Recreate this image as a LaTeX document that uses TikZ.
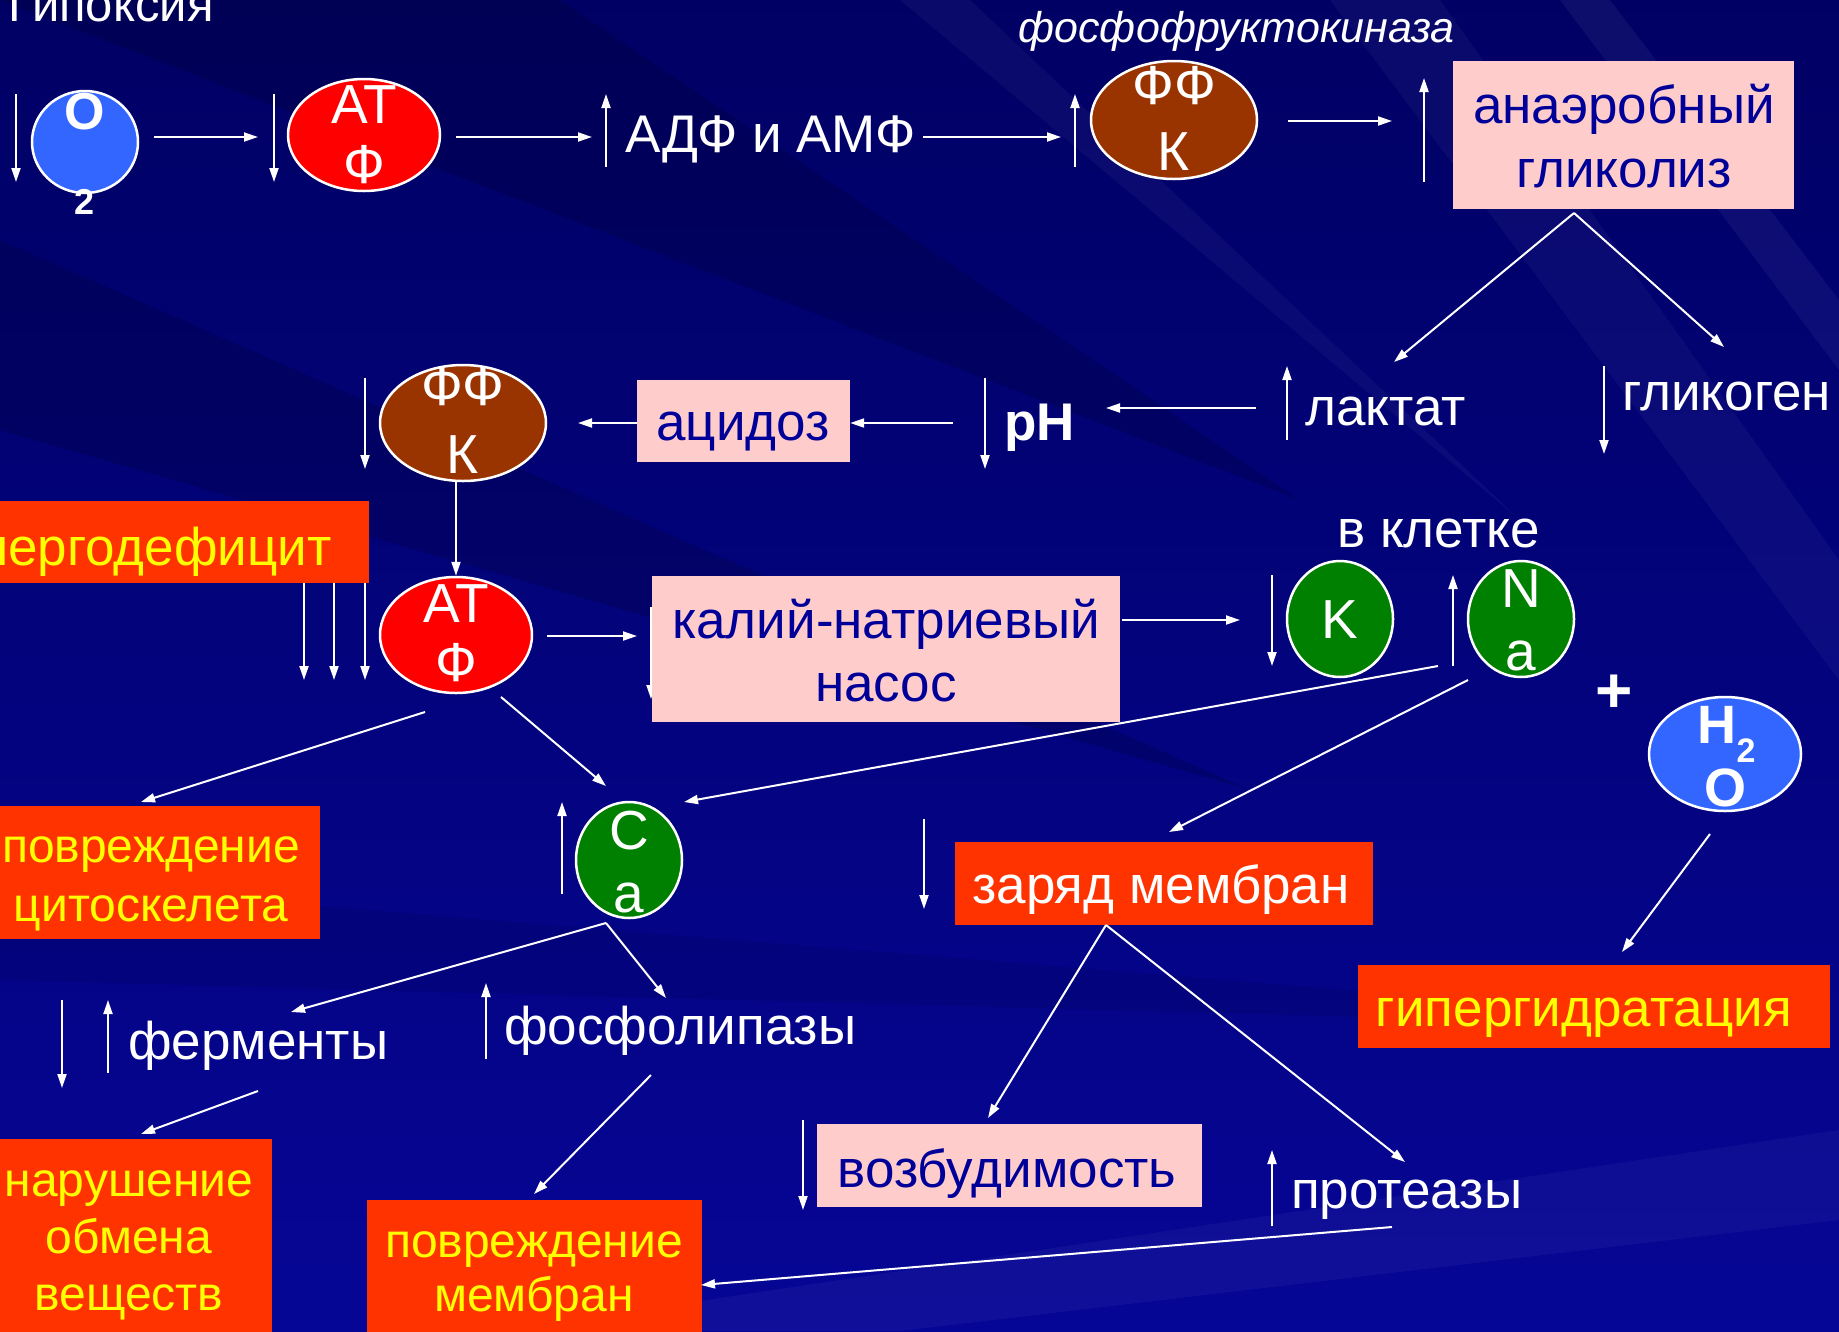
\documentclass[tikz,border=0pt]{standalone}
\usepackage{fontspec}
\setmainfont{Liberation Sans}
\usetikzlibrary{arrows.meta,shapes.geometric}
\definecolor{bgdark}{RGB}{0,0,100}
\definecolor{bglight}{RGB}{6,6,150}
\definecolor{pinkc}{RGB}{255,204,204}
\definecolor{txtblue}{RGB}{0,0,153}
\definecolor{redc}{RGB}{255,51,0}
\definecolor{yelc}{RGB}{255,255,0}
\definecolor{ionblue}{RGB}{51,102,255}
\definecolor{brownc}{RGB}{153,51,0}
\definecolor{greenc}{RGB}{0,128,0}
\definecolor{atfred}{RGB}{255,0,0}
\newcommand\fsmain{\fontsize{53}{62}\selectfont}
\newcommand\fsbox{\fontsize{48}{58}\selectfont}
\newcommand\fsion{\fontsize{55}{62}\selectfont}
\tikzset{
 conn/.style={draw=white, line width=2pt, -{Triangle[length=14pt,width=9pt]}},
 ind/.style={draw=white, line width=2pt, -{Triangle[length=14pt,width=9pt]}},
 ion/.style={ellipse, draw=white, line width=2.5pt, inner sep=0pt},
 pinkbox/.style={rectangle, fill=pinkc, inner sep=0pt},
 redbox/.style={rectangle, fill=redc, inner sep=0pt},
 lbl/.style={text=white, inner sep=0pt, font=\fsmain, anchor=base west},
 iontxt/.style={text=white, inner sep=0pt, font=\fsion, anchor=base},
 btxt/.style={text=txtblue, inner sep=0pt, font=\fsmain, anchor=base},
 ytxt/.style={text=yelc, inner sep=0pt, font=\fsmain, anchor=base},
 ytxts/.style={text=yelc, inner sep=0pt, font=\fsbox, anchor=base},
}
\begin{document}
\begin{tikzpicture}[x=1pt,y=-1pt]
\useasboundingbox (0,0) rectangle (1839,1331);
\clip (0,0) rectangle (1839,1331);
% background
\shade[top color=bgdark, bottom color=bglight] (0,0) rectangle (1839,1331);
\fill[black,opacity=0.14] (0,240) -- (0,430) -- (1250,790) -- cycle;
\fill[black,opacity=0.14] (0,0) -- (560,0) -- (1300,500) -- cycle;
\fill[black,opacity=0.08] (0,880) -- (0,980) -- (1839,1030) -- cycle;
\fill[white,opacity=0.04] (1330,0) -- (1440,0) -- (1839,560) -- (1839,680) -- cycle;
\fill[white,opacity=0.05] (1560,0) -- (1610,0) -- (1839,300) -- (1839,370) -- cycle;
\fill[white,opacity=0.04] (900,0) -- (970,0) -- (1520,520) -- cycle;
\fill[white,opacity=0.04] (500,1331) -- (1839,1130) -- (1839,1220) -- (900,1331) -- cycle;

% arrow partly hidden by the pump box
\draw[ind] (651,607) -- (651,699);

% boxes
\node[pinkbox, minimum width=341, minimum height=148] (glyc) at (1623.5,135) {};
\node[pinkbox, minimum width=213, minimum height=82] (acid) at (743.5,421) {};
\node[pinkbox, minimum width=468, minimum height=146] (pump) at (886,649) {};
\node[pinkbox, minimum width=385, minimum height=83] (excit) at (1009.5,1165.5) {};
\node[redbox, minimum width=449, minimum height=82] (energy) at (144.5,542) {};
\node[redbox, minimum width=340, minimum height=133] (cyto) at (150,872.5) {};
\node[redbox, minimum width=418, minimum height=83] (charge) at (1164,883.5) {};
\node[redbox, minimum width=472, minimum height=83] (hyper) at (1594,1006.5) {};
\node[redbox, minimum width=282, minimum height=206] (metab) at (131,1242) {};
\node[redbox, minimum width=335, minimum height=145] (membr) at (534.5,1272.5) {};

% ellipses
\node[ion, fill=ionblue, minimum width=106, minimum height=102] (o2) at (85,142) {};
\node[ion, fill=atfred, minimum width=152, minimum height=112] (atf1) at (364,135) {};
\node[ion, fill=brownc, minimum width=166, minimum height=118] (ffk1) at (1174,120) {};
\node[ion, fill=brownc, minimum width=166, minimum height=116] (ffk2) at (463,423) {};
\node[ion, fill=atfred, minimum width=152, minimum height=116] (atf2) at (456,635) {};
\node[ion, fill=greenc, minimum width=106, minimum height=116] (kion) at (1340,619) {};
\node[ion, fill=greenc, minimum width=106, minimum height=116] (naion) at (1521,619) {};
\node[ion, fill=greenc, minimum width=106, minimum height=116] (caion) at (629,860) {};
\node[ion, fill=ionblue, minimum width=152, minimum height=114] (h2o) at (1725,754) {};

% texts in ellipses
\node[iontxt, font=\bfseries\fontsize{52}{60}\selectfont] (o2a) at (85,129) {O};
\node[iontxt, font=\bfseries\fontsize{36}{42}\selectfont] (o2b) at (85,214) {2};
\node[iontxt] (atf1a) at (364,123) {АТ};
\node[iontxt] (atf1b) at (364,183) {Ф};
\node[iontxt] (ffk1a) at (1174,104) {ФФ};
\node[iontxt] (ffk1b) at (1174,170) {К};
\node[iontxt] (ffk2a) at (463,405) {ФФ};
\node[iontxt] (ffk2b) at (463,473) {К};
\node[iontxt] (atf2a) at (456,622) {АТ};
\node[iontxt] (atf2b) at (456,681) {Ф};
\node[iontxt] (kt) at (1340,638) {K};
\node[iontxt] (nat1) at (1521,607) {N};
\node[iontxt] (nat2) at (1521,670) {a};
\node[iontxt] (cat1) at (629,849) {C};
\node[iontxt] (cat2) at (629,912) {a};
\node[iontxt, font=\bfseries\fontsize{54}{60}\selectfont] (h2oa) at (1717,743) {H};
\node[iontxt, font=\bfseries\fontsize{34}{40}\selectfont] (h2ob) at (1746,762) {2};
\node[iontxt, font=\bfseries\fontsize{54}{60}\selectfont] (h2oc) at (1725,806) {O};

% texts in boxes
\node[btxt] (glyc1) at (1624,123) {анаэробный};
\node[btxt] (glyc2) at (1624,187) {гликолиз};
\node[btxt] (acidt) at (743,440) {ацидоз};
\node[btxt] (pump1) at (886,638) {калий-натриевый};
\node[btxt] (pump2) at (886,701) {насос};
\node[btxt] (excitt) at (1007,1187) {возбудимость};
\node[ytxt, anchor=base east] (energyt) at (332,565) {энергодефицит};
\node[ytxts] (cyto1) at (151,862) {повреждение};
\node[ytxts] (cyto2) at (151,921) {цитоскелета};
\node[ytxt, text=white] (charget) at (1161,903) {заряд мембран};
\node[ytxt] (hypert) at (1584,1026) {гипергидратация};
\node[ytxts] (metab1) at (129,1196) {нарушение};
\node[ytxts] (metab2) at (129,1253) {обмена};
\node[ytxts] (metab3) at (129,1310) {веществ};
\node[ytxts] (membr1) at (534,1257) {повреждение};
\node[ytxts] (membr2) at (534,1311) {мембран};

% free labels
\node[lbl, font=\fontsize{49}{56}\selectfont] (hyp) at (8,21) {Гипоксия};
\node[lbl] (adf) at (625,152) {АДФ и АМФ};
\node[lbl, font=\itshape\fontsize{43}{50}\selectfont] (pfk) at (1018,42) {фосфофруктокиназа};
\node[lbl] (lact) at (1305,425) {лактат};
\node[lbl] (glycog) at (1622,410) {гликоген};
\node[lbl, font=\bfseries\fsmain] (ph) at (1004,440) {pH};
\node[lbl] (vkl) at (1337,547) {в клетке};
\node[text=white, inner sep=0pt, font=\bfseries\fontsize{64}{70}\selectfont] (plus) at (1614,694) {+};
\node[lbl] (ferm) at (128,1059) {ферменты};
\node[lbl] (phos) at (504,1044) {фосфолипазы};
\node[lbl] (prot) at (1291,1208) {протеазы};

% connector end points
\coordinate (c1a) at (154,137); \coordinate (c1b) at (258,137);
\coordinate (c2a) at (456,137); \coordinate (c2b) at (592,137);
\coordinate (c3a) at (923,137); \coordinate (c3b) at (1061,137);
\coordinate (c4a) at (1288,121); \coordinate (c4b) at (1392,121);
\coordinate (glap) at (1574,213);
\coordinate (c5b) at (1394,362); \coordinate (c6b) at (1724,347);
\coordinate (c7a) at (1256,408); \coordinate (c7b) at (1106,408);
\coordinate (c8a) at (953,423);
\coordinate (c9b) at (578,423);
\coordinate (c11a) at (547,636); \coordinate (c11b) at (637,636);
\coordinate (c12a) at (1122,620); \coordinate (c12b) at (1240,620);
\coordinate (c13a) at (1438,666); \coordinate (c13b) at (684,802);
\coordinate (c14a) at (1468,680); \coordinate (c14b) at (1169,832);
\coordinate (c15a) at (425,712); \coordinate (c15b) at (141,802);
\coordinate (c16a) at (501,697); \coordinate (c16b) at (606,786);
\coordinate (c17a) at (1710,834); \coordinate (c17b) at (1622,952);
\coordinate (caap) at (606,923);
\coordinate (c18b) at (291,1012); \coordinate (c19b) at (666,998);
\coordinate (c20a) at (258,1091); \coordinate (c20b) at (141,1134);
\coordinate (c21a) at (651,1075); \coordinate (c21b) at (534,1194);
\coordinate (chap) at (1106,925);
\coordinate (c22b) at (988,1118); \coordinate (c23b) at (1405,1162);
\coordinate (c24a) at (1392,1227); \coordinate (c24b) at (701,1285);

% connectors
\draw[conn] (c1a) -- (c1b);
\draw[conn] (c2a) -- (c2b);
\draw[conn] (c3a) -- (c3b);
\draw[conn] (c4a) -- (c4b);
\draw[conn] (glap) -- (c5b);
\draw[conn] (glap) -- (c6b);
\draw[conn] (c7a) -- (c7b);
\draw[conn] (c8a) -- (acid.east |- c8a);
\draw[conn] (acid.west |- c9b) -- (c9b);
\draw[conn] (ffk2.south -| atf2.north) -- (atf2.north);
\draw[conn] (c11a) -- (c11b);
\draw[conn] (c12a) -- (c12b);
\draw[conn] (c13a) -- (c13b);
\draw[conn] (c14a) -- (c14b);
\draw[conn] (c15a) -- (c15b);
\draw[conn] (c16a) -- (c16b);
\draw[conn] (c17a) -- (c17b);
\draw[conn] (caap) -- (c18b);
\draw[conn] (caap) -- (c19b);
\draw[conn] (c20a) -- (c20b);
\draw[conn] (c21a) -- (c21b);
\draw[conn] (chap) -- (c22b);
\draw[conn] (chap) -- (c23b);
\draw[conn] (c24a) -- (c24b);

% up / down indicator arrows
\draw[ind] (16,94) -- (16,182);
\draw[ind] (274,94) -- (274,182);
\draw[ind] (606,167) -- (606,94);
\draw[ind] (1075,167) -- (1075,94);
\draw[ind] (1424,182) -- (1424,78);
\draw[ind] (1287,440) -- (1287,366);
\draw[ind] (1604,366) -- (1604,454);
\draw[ind] (985,378) -- (985,469);
\draw[ind] (365,378) -- (365,469);
\draw[ind] (304,583) -- (304,680);
\draw[ind] (334,583) -- (334,680);
\draw[ind] (365,583) -- (365,680);
\draw[ind] (1272,575) -- (1272,666);
\draw[ind] (1453,666) -- (1453,575);
\draw[ind] (562,894) -- (562,802);
\draw[ind] (924,819) -- (924,909);
\draw[ind] (62,1000) -- (62,1088);
\draw[ind] (108,1073) -- (108,1000);
\draw[ind] (486,1059) -- (486,983);
\draw[ind] (803,1120) -- (803,1210);
\draw[ind] (1272,1226) -- (1272,1150);
\end{tikzpicture}
\end{document}
